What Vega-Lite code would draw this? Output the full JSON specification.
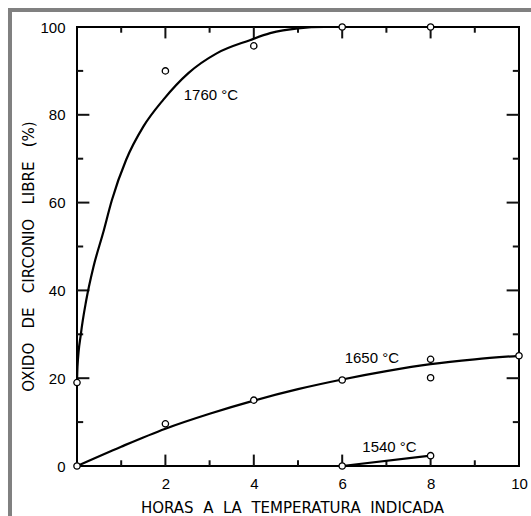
{
  "$schema": "https://vega.github.io/schema/vega-lite/v6.json",
  "width": 442,
  "height": 439,
  "autosize": {"type": "none"},
  "padding": {"left": 77, "top": 27, "right": 12, "bottom": 50},
  "background": "white",
  "config": {
    "view": {"stroke": "black", "strokeWidth": 2},
    "axis": {
      "grid": false, "domain": false, "ticks": false,
      "labelColor": "black", "labelFont": "Liberation Sans", "labelFontSize": 15,
      "labelFlush": false, "labelOverlap": false,
      "titleColor": "black", "titleFont": "DejaVu Sans", "titleFontSize": 15, "titleFontWeight": "normal"
    }
  },
  "datasets": {
    "curves": [
      {"serie": "1760", "h": 0, "v": 19},
      {"serie": "1760", "h": 0.011, "v": 22.6},
      {"serie": "1760", "h": 0.09, "v": 30.2},
      {"serie": "1760", "h": 0.21, "v": 37.8},
      {"serie": "1760", "h": 0.373, "v": 45.4},
      {"serie": "1760", "h": 0.588, "v": 53.0},
      {"serie": "1760", "h": 0.79, "v": 60.6},
      {"serie": "1760", "h": 1.11, "v": 69.7},
      {"serie": "1760", "h": 1.5, "v": 77.3},
      {"serie": "1760", "h": 1.95, "v": 83.4},
      {"serie": "1760", "h": 2.52, "v": 89.5},
      {"serie": "1760", "h": 3.16, "v": 94.0},
      {"serie": "1760", "h": 3.91, "v": 97.0},
      {"serie": "1760", "h": 4.37, "v": 98.6},
      {"serie": "1760", "h": 5.0, "v": 99.7},
      {"serie": "1760", "h": 5.6, "v": 100},
      {"serie": "1760", "h": 6, "v": 100},
      {"serie": "1760", "h": 8, "v": 100},
      {"serie": "1650", "h": 0, "v": 0},
      {"serie": "1650", "h": 1, "v": 4.4},
      {"serie": "1650", "h": 2, "v": 8.5},
      {"serie": "1650", "h": 3, "v": 11.9},
      {"serie": "1650", "h": 4, "v": 14.9},
      {"serie": "1650", "h": 5, "v": 17.5},
      {"serie": "1650", "h": 6, "v": 19.7},
      {"serie": "1650", "h": 7, "v": 21.6},
      {"serie": "1650", "h": 8, "v": 23.2},
      {"serie": "1650", "h": 9, "v": 24.3},
      {"serie": "1650", "h": 10, "v": 25.1},
      {"serie": "1540", "h": 6, "v": 0},
      {"serie": "1540", "h": 8, "v": 2.35}
    ],
    "obs": [
      {"serie": "1760", "h": 0, "v": 19},
      {"serie": "1760", "h": 2, "v": 90},
      {"serie": "1760", "h": 4, "v": 95.7},
      {"serie": "1760", "h": 6, "v": 100},
      {"serie": "1760", "h": 8, "v": 100},
      {"serie": "1650", "h": 0, "v": 0},
      {"serie": "1650", "h": 2, "v": 9.6},
      {"serie": "1650", "h": 4, "v": 15},
      {"serie": "1650", "h": 6, "v": 19.6},
      {"serie": "1650", "h": 8, "v": 24.3},
      {"serie": "1650", "h": 8, "v": 20.1},
      {"serie": "1650", "h": 10, "v": 25.1},
      {"serie": "1540", "h": 6, "v": 0},
      {"serie": "1540", "h": 8, "v": 2.35}
    ],
    "labels": [
      {"h": 3.03, "v": 84.5, "label": "1760 °C"},
      {"h": 6.67, "v": 24.6, "label": "1650 °C"},
      {"h": 7.07, "v": 4.3, "label": "1540 °C"}
    ]
  },
  "layer": [
    {
      "data": {"values": [{}]},
      "mark": {"type": "rect", "fillOpacity": 0, "stroke": "#808080", "strokeWidth": 4, "clip": false},
      "encoding": {
        "x": {"datum": -1.516, "type": "quantitative", "axis": null, "scale": {"domain": [0, 10], "nice": false, "zero": false}},
        "x2": {"datum": 12},
        "y": {"datum": 103.9, "type": "quantitative", "axis": null, "scale": {"domain": [0, 100], "nice": false}},
        "y2": {"datum": -20}
      }
    },
    {
      "data": {"values": [{"t": 2}, {"t": 4}, {"t": 6}, {"t": 8}]},
      "mark": {"type": "rule", "color": "#111111", "strokeWidth": 2},
      "encoding": {"x": {"field": "t", "type": "quantitative", "axis": null}, "y": {"datum": 0, "type": "quantitative", "axis": null}, "y2": {"datum": 2.6}}
    },
    {
      "data": {"values": [{"t": 2}, {"t": 4}, {"t": 6}, {"t": 8}]},
      "mark": {"type": "rule", "color": "#111111", "strokeWidth": 2},
      "encoding": {"x": {"field": "t", "type": "quantitative", "axis": null}, "y": {"datum": 100, "type": "quantitative", "axis": null}, "y2": {"datum": 97.4}}
    },
    {
      "data": {"values": [{"t": 1}, {"t": 3}, {"t": 5}, {"t": 7}, {"t": 9}]},
      "mark": {"type": "rule", "color": "#111111", "strokeWidth": 2},
      "encoding": {"x": {"field": "t", "type": "quantitative", "axis": null}, "y": {"datum": 0, "type": "quantitative", "axis": null}, "y2": {"datum": 1.3}}
    },
    {
      "data": {"values": [{"t": 1}, {"t": 3}, {"t": 5}, {"t": 7}, {"t": 9}]},
      "mark": {"type": "rule", "color": "#111111", "strokeWidth": 2},
      "encoding": {"x": {"field": "t", "type": "quantitative", "axis": null}, "y": {"datum": 100, "type": "quantitative", "axis": null}, "y2": {"datum": 98.7}}
    },
    {
      "data": {"values": [{"t": 20}, {"t": 40}, {"t": 60}, {"t": 80}]},
      "mark": {"type": "rule", "color": "#111111", "strokeWidth": 2},
      "encoding": {"y": {"field": "t", "type": "quantitative", "axis": null}, "x": {"datum": 0, "type": "quantitative", "axis": null}, "x2": {"datum": 0.28}}
    },
    {
      "data": {"values": [{"t": 20}, {"t": 40}, {"t": 60}, {"t": 80}]},
      "mark": {"type": "rule", "color": "#111111", "strokeWidth": 2},
      "encoding": {"y": {"field": "t", "type": "quantitative", "axis": null}, "x": {"datum": 10, "type": "quantitative", "axis": null}, "x2": {"datum": 9.72}}
    },
    {
      "data": {"values": [{"t": 10}, {"t": 30}, {"t": 50}, {"t": 70}, {"t": 90}]},
      "mark": {"type": "rule", "color": "#111111", "strokeWidth": 2},
      "encoding": {"y": {"field": "t", "type": "quantitative", "axis": null}, "x": {"datum": 0, "type": "quantitative", "axis": null}, "x2": {"datum": 0.14}}
    },
    {
      "data": {"values": [{"t": 10}, {"t": 30}, {"t": 50}, {"t": 70}, {"t": 90}]},
      "mark": {"type": "rule", "color": "#111111", "strokeWidth": 2},
      "encoding": {"y": {"field": "t", "type": "quantitative", "axis": null}, "x": {"datum": 10, "type": "quantitative", "axis": null}, "x2": {"datum": 9.86}}
    },
    {
      "data": {"name": "curves"},
      "transform": [{"filter": "datum.serie === '1760'"}],
      "mark": {"type": "line", "color": "black", "strokeWidth": 2.2, "interpolate": "monotone", "clip": false},
      "encoding": {
        "x": {"field": "h", "type": "quantitative", "scale": {"domain": [0, 10], "nice": false, "zero": false},
          "axis": {"orient": "bottom", "values": [2, 4, 6, 8, 10], "labelPadding": 10,
            "title": "HORAS\u00a0 A\u00a0 LA\u00a0 TEMPERATURA\u00a0 INDICADA", "titleX": 215, "titleY": 46, "titleAlign": "center", "titleBaseline": "alphabetic"}},
        "y": {"field": "v", "type": "quantitative", "scale": {"domain": [0, 100], "nice": false},
          "axis": {"orient": "left", "values": [0, 20, 40, 60, 80, 100], "labelPadding": 12,
            "title": "OXIDO\u00a0\u00a0 DE\u00a0\u00a0 CIRCONIO\u00a0\u00a0 LIBRE\u00a0\u00a0 (%)", "titleX": -44, "titleY": 229, "titleAlign": "center", "titleBaseline": "alphabetic"}}
      }
    },
    {
      "data": {"name": "curves"},
      "transform": [{"filter": "datum.serie === '1650'"}],
      "mark": {"type": "line", "color": "black", "strokeWidth": 2.2, "interpolate": "monotone", "clip": false},
      "encoding": {
        "x": {"field": "h", "type": "quantitative", "axis": null},
        "y": {"field": "v", "type": "quantitative", "axis": null}
      }
    },
    {
      "data": {"name": "curves"},
      "transform": [{"filter": "datum.serie === '1540'"}],
      "mark": {"type": "line", "color": "black", "strokeWidth": 2.2, "clip": false},
      "encoding": {
        "x": {"field": "h", "type": "quantitative", "axis": null},
        "y": {"field": "v", "type": "quantitative", "axis": null}
      }
    },
    {
      "data": {"name": "obs"},
      "mark": {"type": "point", "shape": "circle", "filled": true, "fill": "white", "stroke": "black", "strokeWidth": 1.3, "size": 40, "opacity": 1, "clip": false},
      "encoding": {
        "x": {"field": "h", "type": "quantitative", "axis": null},
        "y": {"field": "v", "type": "quantitative", "axis": null}
      }
    },
    {
      "data": {"name": "labels"},
      "mark": {"type": "text", "font": "Liberation Sans", "fontSize": 15, "color": "black", "align": "center", "baseline": "middle"},
      "encoding": {
        "x": {"field": "h", "type": "quantitative", "axis": null},
        "y": {"field": "v", "type": "quantitative", "axis": null},
        "text": {"field": "label"}
      }
    }
  ],
  "resolve": {"axis": {"x": "independent", "y": "independent"}}
}
